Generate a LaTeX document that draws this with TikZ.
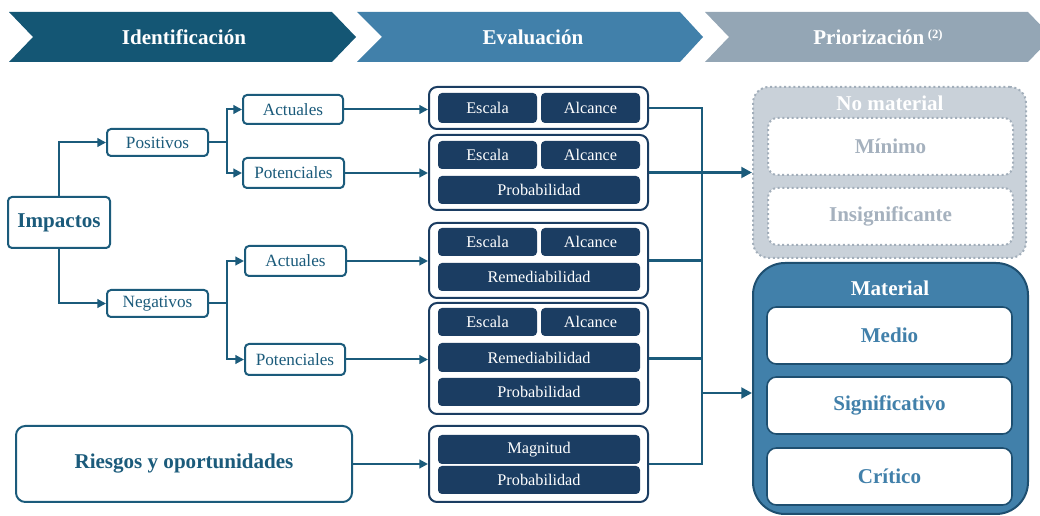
\documentclass[tikz,border=0pt]{standalone}
\usepackage{fontspec}
\setmainfont{Liberation Serif}
\usetikzlibrary{arrows.meta,fit}
\definecolor{chevA}{HTML}{145674}
\definecolor{chevB}{HTML}{4180AA}
\definecolor{chevC}{HTML}{94A6B5}
\definecolor{lineC}{HTML}{1B5B7B}
\definecolor{navyC}{HTML}{1B3D62}
\definecolor{nmfill}{HTML}{C9D1D9}
\definecolor{nmtext}{HTML}{A5B1BE}
\definecolor{nmborder}{HTML}{A2AEBA}
\definecolor{matfill}{HTML}{4180AA}
\definecolor{matborder}{HTML}{1E4F70}
\newcommand{\regfont}{\fontsize{12.9}{14}\selectfont}
\newcommand{\cellfont}{\fontsize{12.2}{14}\selectfont}
\newcommand{\boldfont}{\bfseries\fontsize{15.8}{17}\selectfont}
\tikzset{
  treebox/.style={draw=lineC, line width=1.5pt, fill=white, rounded corners=3pt, inner sep=0pt},
  treetxt/.style={text=lineC, font=\regfont},
  bigtxt/.style={text=lineC, font=\boldfont},
  evbox/.style={draw=navyC, line width=1.5pt, fill=white, rounded corners=6pt, inner sep=0pt},
  cell/.style={fill=navyC, rounded corners=3pt, inner sep=0pt},
  celltxt/.style={text=white, font=\cellfont},
  arr/.style={draw=lineC, line width=1.5pt, -{Triangle[length=6.5pt,width=6.5pt]}},
  bus/.style={draw=lineC, line width=2.2pt},
  busarr/.style={draw=lineC, line width=2.2pt, -{Triangle[length=8pt,width=8pt]}},
  hdr/.style={text=white, font=\boldfont},
  nmbox/.style={draw=nmborder, dotted, line width=1.5pt, fill=white, rounded corners=7pt, inner sep=0pt},
  nmtxt/.style={text=nmtext, font=\boldfont},
  matbox/.style={draw=matborder, line width=1.2pt, fill=white, rounded corners=7pt, inner sep=0pt},
  mattxt/.style={text=matfill, font=\boldfont},
}
\begin{document}
\begin{tikzpicture}[x=0.75pt,y=-0.75pt]
\useasboundingbox (0,0) rectangle (1040,516);
% header chevrons
\fill[chevA] (9,12) -- (332,12) -- (356,37) -- (332,62) -- (9,62) -- (33,37) -- cycle;
\fill[chevB] (357,12) -- (680,12) -- (703,37) -- (680,62) -- (357,62) -- (382,37) -- cycle;
\fill[chevC] (705,12) -- (1028,12) -- (1040,24.5) -- (1040,49.5) -- (1028,62) -- (705,62) -- (729,37) -- cycle;
\node[hdr] (h1) at (184,37) {Identificación};
\node[hdr] (h2) at (533,37) {Evaluación};
\node[hdr] (h3) at (878,37) {Priorización\,\raisebox{0.55ex}{\fontsize{9.5}{10}\selectfont(2)}};
% left tree
\node[treebox, fit={(8,197)(110,248)}] (imp) {};
\node[bigtxt] (impt) at (imp.center) {Impactos};
\node[treebox, fit={(107,129)(208,156)}] (pos) {};
\node[treetxt] at (pos.center) {Positivos};
\node[treebox, fit={(107,290)(208,317)}] (neg) {};
\node[treetxt] at (neg.center) {Negativos};
\node[treebox, fit={(243,95)(343,124)}] (a1) {};
\node[treetxt] at (a1.center) {Actuales};
\node[treebox, fit={(243,158)(344,188)}] (p1) {};
\node[treetxt] at (p1.center) {Potenciales};
\node[treebox, fit={(245,246)(346,276)}] (a2) {};
\node[treetxt] at (a2.center) {Actuales};
\node[treebox, fit={(245,344)(345,375)}] (p2) {};
\node[treetxt] at (p2.center) {Potenciales};
\node[treebox, rounded corners=7pt, fit={(16,426)(352,502)}] (rie) {};
\node[bigtxt] at (rie.center) {Riesgos y oportunidades};
\draw[arr] (imp.north) |- (pos.west);
\draw[arr] (imp.south) |- (neg.west);
\draw[arr] (pos.east) -- ++(18,0) |- (a1.west);
\draw[arr] (pos.east) -- ++(18,0) |- (p1.west);
\draw[arr] (neg.east) -- ++(18,0) |- (a2.west);
\draw[arr] (neg.east) -- ++(18,0) |- (p2.west);
% evaluation boxes
\node[evbox, fit={(429,87)(648,129)}] (e1) {};
\node[evbox, fit={(429,135)(648,210)}] (e2) {};
\node[evbox, fit={(429,223)(648,298)}] (e3) {};
\node[evbox, fit={(429,303)(648,414)}] (e4) {};
\node[evbox, fit={(429,426)(648,502)}] (e5) {};
\node[cell, fit={(438,93)(537,123)}] (c11) {};
\node[cell, fit={(541,93)(640,123)}] (c12) {};
\node[cell, fit={(438,141)(537,169)}] (c21) {};
\node[cell, fit={(541,141)(640,169)}] (c22) {};
\node[cell, fit={(438,176)(640,204)}] (c23) {};
\node[cell, fit={(438,228)(537,256)}] (c31) {};
\node[cell, fit={(541,228)(640,256)}] (c32) {};
\node[cell, fit={(438,263)(640,291)}] (c33) {};
\node[cell, fit={(438,308)(537,336)}] (c41) {};
\node[cell, fit={(541,308)(640,336)}] (c42) {};
\node[cell, fit={(438,343)(640,372)}] (c43) {};
\node[cell, fit={(438,378)(640,406)}] (c44) {};
\node[cell, fit={(438,435)(640,464)}] (c51) {};
\node[cell, fit={(438,466)(640,494)}] (c52) {};
\foreach \n/\t in {c11/Escala,c12/Alcance,c21/Escala,c22/Alcance,c23/Probabilidad,c31/Escala,c32/Alcance,c33/Remediabilidad,c41/Escala,c42/Alcance,c43/Remediabilidad,c44/Probabilidad,c51/Magnitud,c52/Probabilidad}
  \node[celltxt] at (\n.center) {\t};
\draw[arr] (a1.east) -- (a1.east -| e1.west);
\draw[arr] (p1.east) -- (p1.east -| e2.west);
\draw[arr] (a2.east) -- (a2.east -| e3.west);
\draw[arr] (p2.east) -- (p2.east -| e4.west);
\draw[arr] (rie.east) -- (rie.east -| e5.west);
% prioritisation
\node[draw=nmborder, dotted, line width=1.5pt, fill=nmfill, rounded corners=12pt, inner sep=0pt, fit={(753,87)(1026,258)}] (nm) {};
\node[text=white, font=\boldfont] (nmt) at (890,103) {No material};
\node[nmbox, fit={(768,118)(1013,175)}] (min) {};
\node[nmtxt] at (min.center) {Mínimo};
\node[nmbox, fit={(768,188)(1013,245)}] (ins) {};
\node[nmtxt] at (ins.center) {Insignificante};
\node[draw=matborder, line width=1.5pt, fill=matfill, rounded corners=24pt, inner sep=0pt, fit={(753,263)(1028,514)}] (mat) {};
\node[text=white, font=\boldfont] (matt) at (890,288) {Material};
\node[matbox, fit={(767,307)(1012,364)}] (med) {};
\node[mattxt] at (med.center) {Medio};
\node[matbox, fit={(767,377)(1012,434)}] (sig) {};
\node[mattxt] at (sig.center) {Significativo};
\node[matbox, fit={(767,448)(1012,505)}] (cri) {};
\node[mattxt] at (cri.center) {Crítico};
% bus
\coordinate (bt) at (702,108);
\draw[bus] (e1.east) -| (702,464) -- (e5.east);
\draw[bus] (e3.east) -- (e3.east -| bt);
\draw[bus] (e4.east) -- (e4.east -| bt);
\draw[busarr] (e2.east) -- (nm.west);
\draw[busarr] (bt |- 0,393) -- (mat.west |- 0,393);
\end{tikzpicture}
\end{document}
